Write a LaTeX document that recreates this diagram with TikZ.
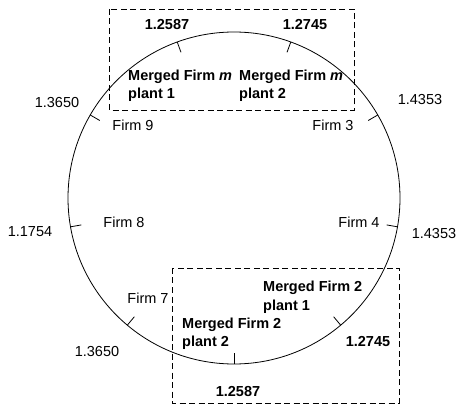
\documentclass[tikz,border=0pt]{standalone}
\usepackage{fontspec}
\setmainfont{Liberation Sans}
\begin{document}
\begin{tikzpicture}[x=1pt,y=-1pt,
  lab/.style={font=\fontsize{14.5}{18.5}\selectfont,inner sep=0pt},
  blab/.style={font=\fontsize{14.5}{18.5}\selectfont\bfseries,inner sep=0pt},
  mlab/.style={blab,anchor=west,align=left},
  dbox/.style={draw,dashed,dash pattern=on 6pt off 3.5pt,line width=0.9pt},
  tick/.style={line width=0.8pt}]
\useasboundingbox (0,0) rectangle (458,406);
\coordinate (c) at (234,198);
\draw[line width=0.8pt] (c) circle (166pt);
\foreach \a in {110,70,30,-10,-50,-90,-130,-170,150}
  \draw[tick,shift={(c)}] (\a:166pt) -- (\a:155pt);
% dashed boxes
\draw[dbox] (109,9) rectangle (354,110);
\draw[dbox] (172,268) rectangle (399,403);
% labels
\node[blab] (t1) at (167,25) {1.2587};
\node[blab] (t2) at (305,25) {1.2745};
\node[mlab] (m1) at (128,86) {Merged Firm \textit{m}\\plant 1};
\node[mlab] (m2) at (239,86) {Merged Firm \textit{m}\\plant 2};
\node[lab] (v1) at (57,103) {1.3650};
\node[lab] (v2) at (420,100) {1.4353};
\node[lab] (f9) at (133,125) {Firm 9};
\node[lab] (f3) at (333,125) {Firm 3};
\node[lab] (f8) at (124,222) {Firm 8};
\node[lab] (v3) at (30,232) {1.1754};
\node[lab] (f4) at (359,222) {Firm 4};
\node[lab] (v4) at (434,234) {1.4353};
\node[lab] (f7) at (148,298) {Firm 7};
\node[mlab] (p1) at (263,297.5) {Merged Firm 2\\plant 1};
\node[mlab] (p2) at (182,334) {Merged Firm 2\\plant 2};
\node[blab] (v5) at (368,342) {1.2745};
\node[lab] (v6) at (97,352) {1.3650};
\node[blab] (v7) at (238,392) {1.2587};
\end{tikzpicture}
\end{document}
